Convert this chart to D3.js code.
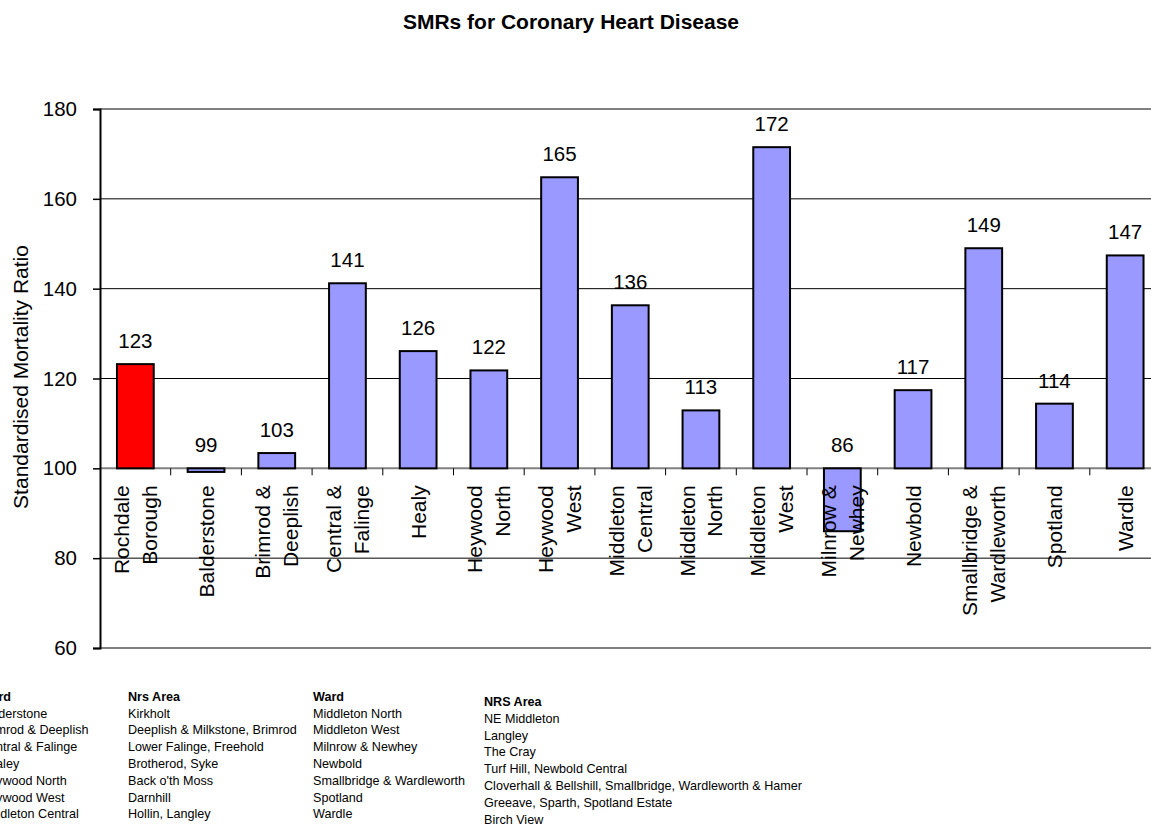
<!DOCTYPE html>
<html>
<head>
<meta charset="utf-8">
<script src="https://cdn.jsdelivr.net/npm/d3@7"></script>
<style>
  body { margin: 0; background: #fff; }
  svg { display: block; font-family: Arial, "Liberation Sans", sans-serif; }
</style>
</head>
<body>
<svg id="chart" width="1151" height="825"></svg>
<script>
// ward names as shown under the bars (\n = line break)
let wards = ["Rochdale\nBorough","Balderstone","Brimrod &\nDeeplish","Central &\nFalinge","Healy",
  "Heywood\nNorth","Heywood\nWest","Middleton\nCentral","Middleton\nNorth","Middleton\nWest",
  "Milnrow &\nNewhey","Newbold","Smallbridge &\nWardleworth","Spotland","Wardle"];
let smr = [123.2, 99.2, 103.4, 141.2, 126.1, 121.8, 164.8, 136.3, 112.9, 171.5, 86.0, 117.4, 149.0, 114.4, 147.4];
let yTicks = [60, 80, 100, 120, 140, 160, 180];

// lookup table under the chart
let col1 = ["Ward","Balderstone","Brimrod & Deeplish","Central & Falinge","Healey","Heywood North","Heywood West","Middleton Central"];
let col2 = ["Nrs Area","Kirkholt","Deeplish & Milkstone, Brimrod","Lower Falinge, Freehold","Brotherod, Syke","Back o'th Moss","Darnhill","Hollin, Langley"];
let col3 = ["Ward","Middleton North","Middleton West","Milnrow & Newhey","Newbold","Smallbridge & Wardleworth","Spotland","Wardle"];
let col4 = ["NRS Area","NE Middleton","Langley","The Cray","Turf Hill, Newbold Central","Cloverhall & Bellshill, Smallbridge, Wardleworth & Hamer","Greeave, Sparth, Spotland Estate","Birch View"];

var svg = d3.select("#chart");
var plotLeft = 100, plotTop = 109, plotBottom = 648;
var step = 70.7;

var x = d3.scaleBand()
  .domain(wards)
  .range([plotLeft, plotLeft + step*wards.length])
  .paddingInner(0.48)
  .paddingOuter(0.24);

var y = d3.scaleLinear().domain([60,180]).range([plotBottom, plotTop]);
var base = 100;

svg.append("text")
  .attr("x", 571).attr("y", 29)
  .attr("text-anchor", "middle")
  .style("font-weight", "bold")
  .style("font-size", "21px")
  .text("SMRs for Coronary Heart Disease");

// gridlines
svg.append("g").selectAll("line")
  .data(yTicks.filter(d => d != 60 && d != 180 && d != base))
  .enter().append("line")
  .attr("x1", plotLeft).attr("x2", 1151)
  .attr("y1", d => y(d)).attr("y2", d => y(d))
  .attr("stroke", "#000").attr("stroke-width", 1);

// plot area border top/bottom
svg.append("g").selectAll("line")
  .data([60,180])
  .enter().append("line")
  .attr("x1", plotLeft).attr("x2", 1151)
  .attr("y1", d => y(d)).attr("y2", d => y(d))
  .attr("stroke", "#808080").attr("stroke-width", 2);

// category axis at 100
svg.append("line")
  .attr("x1", plotLeft).attr("x2", 1151)
  .attr("y1", y(base)).attr("y2", y(base))
  .attr("stroke", "#808080").attr("stroke-width", 2);
svg.append("g").selectAll("line")
  .data(wards.slice(1))
  .enter().append("line")
  .attr("x1", d => x(d) - x.step()*x.paddingInner()/2)
  .attr("x2", d => x(d) - x.step()*x.paddingInner()/2)
  .attr("y1", y(base)).attr("y2", y(base) + 7)
  .attr("stroke", "#000").attr("stroke-width", 1);

// value axis
var yAxis = svg.append("g")
  .attr("transform", "translate(" + plotLeft + ",0)")
  .call(d3.axisLeft(y).tickValues(yTicks).tickSize(7).tickPadding(16));
yAxis.select(".domain").attr("stroke", "#000").attr("stroke-width", 2);
yAxis.selectAll(".tick line").attr("stroke", "#000").attr("stroke-width", 1.5);
yAxis.selectAll(".tick text")
  .style("font-size", "20.5px")
  .style("font-family", "Arial, 'Liberation Sans', sans-serif")
  .attr("fill", "#000");

svg.append("text")
  .attr("transform", "translate(28,377) rotate(-90)")
  .attr("text-anchor", "middle")
  .style("font-size", "21px")
  .text("Standardised Mortality Ratio");

// bars hang from 100
svg.append("g").selectAll("rect")
  .data(smr)
  .enter().append("rect")
  .attr("x", (d,i) => x(wards[i]))
  .attr("width", x.bandwidth())
  .attr("y", d => y(Math.max(d, base)))
  .attr("height", d => Math.abs(y(d) - y(base)))
  .attr("fill", (d,i) => i == 0 ? "#FF0000" : "#9999FF")
  .attr("stroke", "#000").attr("stroke-width", 2);

// values above bars
svg.append("g").selectAll("text")
  .data(smr)
  .enter().append("text")
  .attr("x", (d,i) => x(wards[i]) + x.bandwidth()/2)
  .attr("y", d => y(Math.max(d, base)) - 16)
  .attr("text-anchor", "middle")
  .style("font-size", "20.5px")
  .text(d => d3.format(".0f")(d));

// rotated ward labels
var catLabels = svg.append("g").selectAll("text")
  .data(wards)
  .enter().append("text")
  .attr("transform", d => "translate(" + (x(d) + x.bandwidth()/2) + "," + (y(base) + 17) + ") rotate(-90)")
  .attr("text-anchor", "end")
  .style("font-size", "21px");
catLabels.each(function(d){
  let lines = d.split("\n");
  let t = d3.select(this);
  lines.forEach(function(l, j){
    t.append("tspan")
      .attr("x", 0)
      .attr("y", (j - (lines.length-1)/2)*28)
      .attr("dy", "0.36em")
      .text(l);
  });
});

// table (first column runs off the left edge)
let cols = [[col1, -20, 700.7], [col2, 128, 700.7], [col3, 313, 700.7], [col4, 484, 706]];
cols.forEach(function(c){
  svg.append("g").selectAll("text")
    .data(c[0])
    .enter().append("text")
    .attr("x", c[1])
    .attr("y", (d,i) => c[2] + i*16.8)
    .style("font-size", "12.6px")
    .style("font-weight", (d,i) => i == 0 ? "bold" : "normal")
    .text(d => d);
});
</script>
</body>
</html>
